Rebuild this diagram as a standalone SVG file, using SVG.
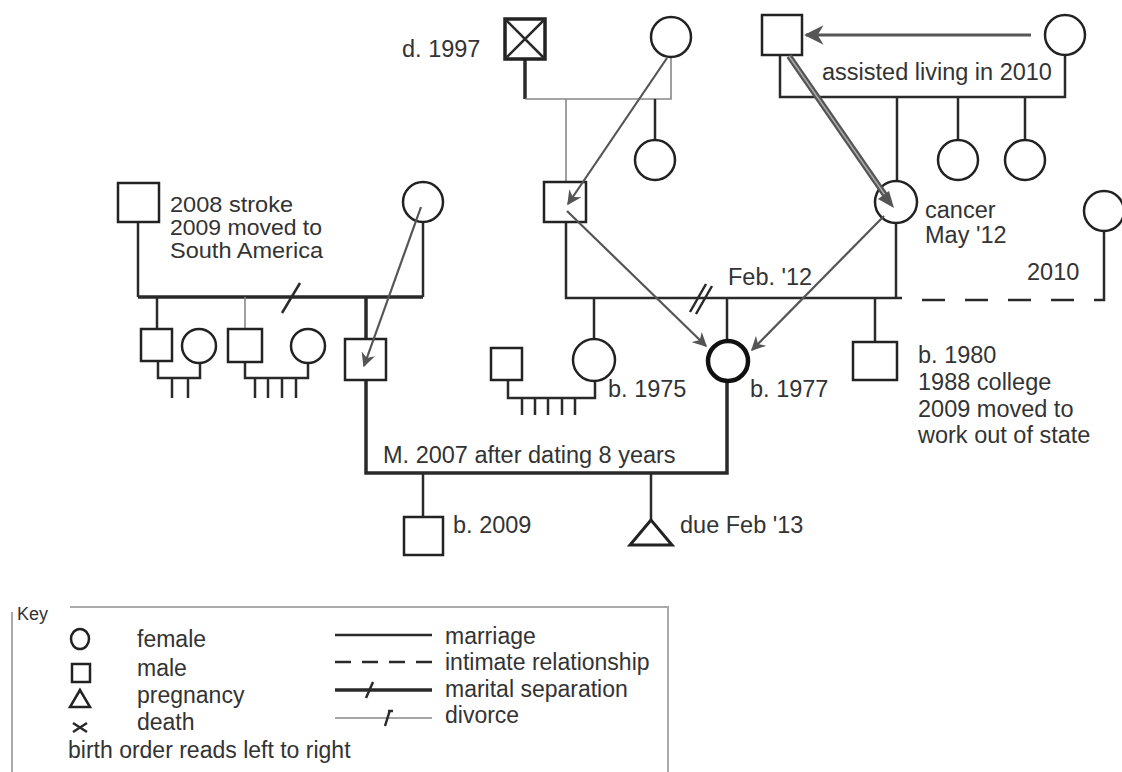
<svg xmlns="http://www.w3.org/2000/svg" width="1122" height="772" viewBox="0 0 1122 772">
<defs>
<style>
.p{fill:#fff;stroke:#222;stroke-width:2.5}
.pb{fill:#fff;stroke:#111;stroke-width:4.5}
.l{fill:none;stroke:#2a2a2a;stroke-width:2.5}
.lt{fill:none;stroke:#888;stroke-width:1.6}
.lk{fill:none;stroke:#2a2a2a;stroke-width:3.5}
.a{fill:none;stroke:#555;stroke-width:2.2;marker-end:url(#ah)}
.ak{fill:none;stroke:#555;stroke-width:3;marker-end:url(#ah)}
text{font-family:"Liberation Sans",Arial,sans-serif;font-size:23.5px;fill:#333}
.k{font-size:23px}
.s{font-size:21.5px}
.box{fill:none;stroke:#aaa;stroke-width:2}
</style>
<marker id="ah" viewBox="0 0 10 10" refX="9" refY="5" markerWidth="6.5" markerHeight="6.5" orient="auto" markerUnits="strokeWidth">
<path d="M0,0 L10,5 L0,10 L3,5 z" fill="#555"/>
</marker>
</defs>
<rect width="1122" height="772" fill="#fff"/>

<g id="connectors">
<path class="lk" d="M525,59 V99"/>
<path class="lt" d="M525,99 H671 V57"/>
<path class="lt" d="M566,99 V182"/>
<path class="l" d="M655,99 V140"/>
<path class="l" d="M780,55 V97 H1065 V55"/>
<path class="l" d="M897,97 V181"/>
<path class="l" d="M958,97 V140"/>
<path class="l" d="M1025,97 V140"/>
<path class="l" d="M566,222 V298 H902"/>
<path class="l" d="M896,223 V298"/>
<path class="l" d="M594,298 V338"/>
<path class="l" d="M727,298 V340"/>
<path class="l" d="M875,298 V342"/>
<path class="l" d="M690,312 L706,284 M696,314 L712,286"/>
<path class="l" d="M922,300 H1097 V300" stroke-dasharray="23 20"/>
<path class="l" d="M1097,300 H1104 V231"/>
<path class="l" d="M138,222 V297"/>
<path class="l" d="M423,222 V297"/>
<path class="lk" d="M138,297 H423"/>
<path class="l" d="M282,313 L300,283"/>
<path class="l" d="M157,297 V329"/>
<path class="lt" d="M245,297 V329"/>
<path class="lk" d="M366,297 V339"/>
<path class="l" d="M158,361 V378 H200 V363"/>
<path class="l" d="M172,378 V398 M188,378 V398"/>
<path class="l" d="M245,362 V378 H308 V363"/>
<path class="l" d="M255,378 V398 M268,378 V398 M282,378 V398 M296,378 V398"/>
<path class="l" d="M508,380 V398 H595 V382"/>
<path class="l" d="M522,398 V415 M535,398 V415 M548,398 V415 M562,398 V415 M575,398 V415"/>
<path class="lk" d="M366,380 V473 H727 V381"/>
<path class="l" d="M423,473 V517"/>
<path class="l" d="M651,473 V520"/>
</g>

<g id="grandfather-paternal">
<rect class="p" x="505" y="19" width="40" height="40" style="stroke-width:3.5"/>
<path class="l" d="M505,19 L545,59 M545,19 L505,59"/>
<text x="402" y="57">d. 1997</text>
</g>
<g id="grandmother-paternal"><circle class="p" cx="671" cy="37" r="20"/></g>
<g id="aunt-paternal"><circle class="p" cx="655" cy="160" r="20"/></g>
<g id="grandfather-maternal"><rect class="p" x="762" y="15" width="40" height="40"/></g>
<g id="grandmother-maternal">
<circle class="p" cx="1065" cy="35" r="20"/>
<text x="822" y="80">assisted living in 2010</text>
</g>
<g id="aunt-maternal-1"><circle class="p" cx="958" cy="160" r="20"/></g>
<g id="aunt-maternal-2"><circle class="p" cx="1025" cy="160" r="20"/></g>
<g id="father"><rect class="p" x="544" y="182" width="42" height="40"/></g>
<g id="mother">
<circle class="p" cx="896" cy="202" r="21"/>
<text x="925" y="218">cancer</text>
<text x="925" y="243">May '12</text>
</g>
<g id="partner-2010">
<circle class="p" cx="1104" cy="211" r="20"/>
<text x="1027" y="280">2010</text>
</g>
<text x="728" y="285">Feb. '12</text>
<g id="sister">
<circle class="p" cx="594" cy="360" r="21"/>
<text x="608" y="397">b. 1975</text>
</g>
<g id="sister-husband"><rect class="p" x="491" y="348" width="31" height="32"/></g>
<g id="client">
<circle class="pb" cx="728" cy="361" r="20"/>
<text x="750" y="397">b. 1977</text>
</g>
<g id="brother">
<rect class="p" x="853" y="342" width="44" height="38"/>
<text x="918" y="363">b. 1980</text>
<text x="918" y="390">1988 college</text>
<text x="918" y="417">2009 moved to</text>
<text x="918" y="443">work out of state</text>
</g>
<g id="father-in-law">
<rect class="p" x="118" y="183" width="41" height="39"/>
<text class="s" x="170" y="212" textLength="123" lengthAdjust="spacingAndGlyphs">2008 stroke</text>
<text class="s" x="170" y="235" textLength="152" lengthAdjust="spacingAndGlyphs">2009 moved to</text>
<text class="s" x="170" y="258" textLength="153" lengthAdjust="spacingAndGlyphs">South America</text>
</g>
<g id="mother-in-law"><circle class="p" cx="423" cy="202" r="20"/></g>
<g id="bil-1"><rect class="p" x="141" y="329" width="31" height="32"/></g>
<g id="bil-1-wife"><circle class="p" cx="199" cy="346" r="17"/></g>
<g id="bil-2"><rect class="p" x="228" y="329" width="34" height="33"/></g>
<g id="bil-2-wife"><circle class="p" cx="308" cy="346" r="17"/></g>
<g id="husband"><rect class="p" x="345" y="339" width="41" height="41"/></g>
<text x="383" y="463">M. 2007 after dating 8 years</text>
<g id="son">
<rect class="p" x="404" y="517" width="39" height="38"/>
<text x="453" y="533">b. 2009</text>
</g>
<g id="pregnancy">
<path class="p" d="M651,520 L630,545 L672,545 Z" style="stroke-width:3"/>
<text x="680" y="533">due Feb '13</text>
</g>

<g id="influence-arrows">
<path class="a" d="M667,58 L568,204"/>
<path class="a" d="M567,211 L706,346"/>
<path class="a" d="M884,216 L752,350"/>
<path class="ak" d="M1031,35 L806,35"/>
<path fill="none" stroke="#555" stroke-width="6" d="M789,56 L885,195"/>
<path fill="none" stroke="#aaa" stroke-width="1.5" d="M789,56 L885,195"/>
<path d="M894,208 L878,199 L889,191 z" fill="#555"/>
<path class="a" d="M421,207 L364,366"/>
</g>

<g id="key">
<path class="box" d="M12,612 V772 M70,607 H668 V772"/>
<text x="17" y="620" style="font-size:18px">Key</text>
<ellipse class="p" cx="80" cy="639" rx="9" ry="10"/>
<text class="k" x="137" y="647">female</text>
<rect class="p" x="72" y="664" width="18" height="18"/>
<text class="k" x="137" y="676">male</text>
<path class="p" d="M80,690 L70,707 L90,707 Z"/>
<text class="k" x="137" y="703">pregnancy</text>
<path class="l" d="M73,723 L87,732 M73,732 L87,723"/>
<text class="k" x="137" y="730">death</text>
<text class="k" x="68" y="758">birth order reads left to right</text>
<path class="l" d="M335,635 H432"/>
<text class="k" x="445" y="644">marriage</text>
<path class="l" d="M335,662 H432" stroke-dasharray="16 11"/>
<text class="k" x="445" y="670">intimate relationship</text>
<path class="lk" d="M335,690 H432"/>
<path class="l" d="M366,698 L373,682"/>
<text class="k" x="445" y="697">marital separation</text>
<path class="lt" d="M335,718 H432"/>
<path class="l" d="M385,726 L390,710 M388,711 H393"/>
<text class="k" x="445" y="723">divorce</text>
</g>
</svg>
